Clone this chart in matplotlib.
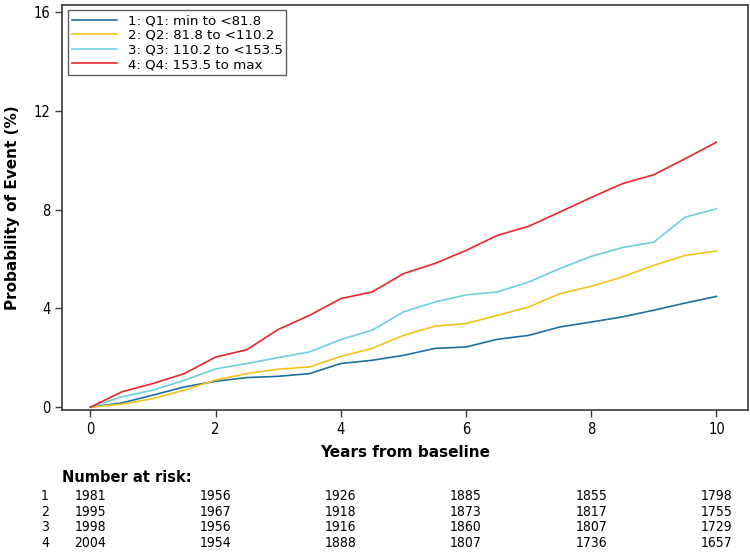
#!/usr/bin/env python3
"""Cumulative incidence by quartile with number-at-risk table."""

import matplotlib

matplotlib.use("Agg")
import matplotlib.pyplot as plt
import matplotlib.transforms as mtransforms

years = [0.0, 0.5, 1.0, 1.5, 2.0, 2.5, 3.0, 3.5, 4.0, 4.5,
         5.0, 5.5, 6.0, 6.5, 7.0, 7.5, 8.0, 8.5, 9.0, 9.5, 10.0]

q1 = [0.0, 0.17, 0.49, 0.82, 1.05, 1.20, 1.25, 1.36, 1.77, 1.90,
      2.10, 2.38, 2.44, 2.75, 2.91, 3.25, 3.45, 3.66, 3.93, 4.22, 4.49]
q2 = [0.0, 0.12, 0.35, 0.69, 1.10, 1.36, 1.54, 1.63, 2.06, 2.38,
      2.91, 3.28, 3.39, 3.72, 4.06, 4.60, 4.90, 5.28, 5.75, 6.15, 6.33]
q3 = [0.0, 0.42, 0.69, 1.09, 1.55, 1.77, 2.01, 2.24, 2.74, 3.12,
      3.86, 4.26, 4.55, 4.67, 5.07, 5.62, 6.11, 6.47, 6.69, 7.70, 8.04]
q4 = [0.0, 0.62, 0.96, 1.36, 2.03, 2.33, 3.15, 3.72, 4.40, 4.67,
      5.41, 5.82, 6.35, 6.96, 7.33, 7.91, 8.50, 9.06, 9.42, 10.07, 10.74]

labels = ["1: Q1: min to <81.8", "2: Q2: 81.8 to <110.2",
          "3: Q3: 110.2 to <153.5", "4: Q4: 153.5 to max"]
colors = ["#1f6f9f", "#f2c41b", "#6fcfdf", "#e8262b"]

risk_times = [0, 2, 4, 6, 8, 10]
risk_rows = ["1", "2", "3", "4"]
risk_q1 = [1981, 1956, 1926, 1885, 1855, 1798]
risk_q2 = [1995, 1967, 1918, 1873, 1817, 1755]
risk_q3 = [1998, 1956, 1916, 1860, 1807, 1729]
risk_q4 = [2004, 1954, 1888, 1807, 1736, 1657]

NARROW = dict(family="DejaVu Sans", stretch="condensed")

fig = plt.figure(figsize=(7.5, 5.52), dpi=100)
ax = fig.add_axes([0.083, 0.257, 0.914, 0.734])

for series, lab, col in zip([q1, q2, q3, q4], labels, colors):
    ax.plot(years, series, color=col, lw=1.2, label=lab)

ax.set_xlim(-0.45, 10.5)
ax.set_ylim(-0.12, 16.3)
ax.set_xticks([0, 2, 4, 6, 8, 10])
ax.set_yticks([0, 4, 8, 12, 16])
for sp in ax.spines.values():
    sp.set_color("#3a3a3a")
    sp.set_linewidth(1.2)
ax.tick_params(direction="out", length=5, width=1, color="#3a3a3a",
               labelsize=10.5)
for t in ax.get_xticklabels() + ax.get_yticklabels():
    t.set_family(NARROW["family"])
    t.set_stretch(NARROW["stretch"])

ax.set_xlabel("Years from baseline", fontsize=11, fontweight="bold",
              labelpad=6)
ax.set_ylabel("Probability of Event (%)", fontsize=11, fontweight="bold",
              labelpad=10)

leg = ax.legend(loc="upper left", fontsize=9.6, frameon=True, fancybox=False,
                borderpad=0.3, labelspacing=0.12, handlelength=3.4,
                handletextpad=0.8, borderaxespad=0.4)
leg.get_frame().set_edgecolor("#333333")
leg.get_frame().set_linewidth(1.0)

# number at risk table, x from the data axis, y in figure coords
trans = mtransforms.blended_transform_factory(ax.transData, fig.transFigure)
fig.text(0.083, 0.135, "Number at risk:", fontsize=10.5, fontweight="bold",
         va="center", ha="left")
row_y = [0.101, 0.072, 0.045, 0.016]
for lab, counts, y in zip(risk_rows, [risk_q1, risk_q2, risk_q3, risk_q4], row_y):
    fig.text(0.06, y, lab, fontsize=10, va="center", ha="center", **NARROW)
    for t, n in zip(risk_times, counts):
        fig.text(t, y, str(n), transform=trans, fontsize=10, va="center",
                 ha="center", **NARROW)

fig.savefig("out.png", dpi=100)
